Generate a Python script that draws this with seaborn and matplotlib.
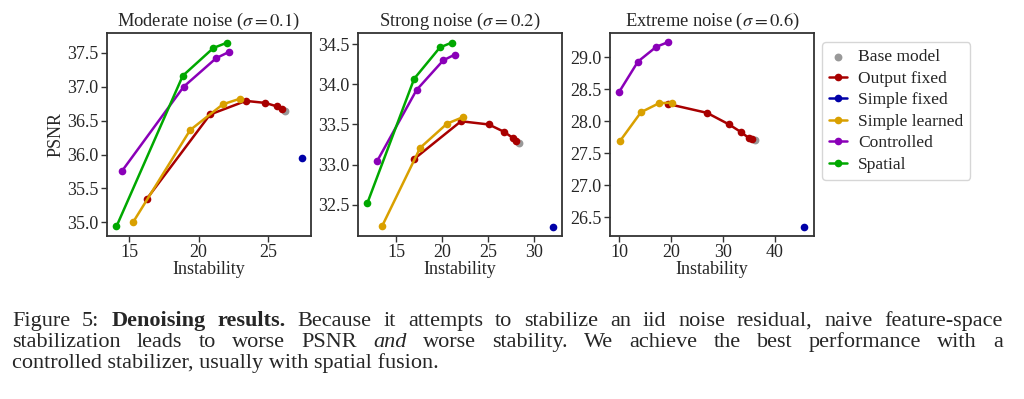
import matplotlib
matplotlib.use("Agg")
import matplotlib.pyplot as plt
from matplotlib.ticker import MultipleLocator, FormatStrFormatter
import seaborn as sns

# ---------------------------------------------------------------------------
# Data (one list per noise level)
# ---------------------------------------------------------------------------
panel_titles = [r"Moderate noise ($\sigma = 0.1$)",
                r"Strong noise ($\sigma = 0.2$)",
                r"Extreme noise ($\sigma = 0.6$)"]

base_x = [26.25, 28.43, 36.14]
base_y = [36.64, 33.27, 27.70]

simple_fixed_x = [27.43, 32.08, 45.71]
simple_fixed_y = [35.95, 32.22, 26.35]

output_fixed_x = [[16.28, 20.83, 23.41, 24.81, 25.63, 25.99],
                  [16.97, 22.08, 25.11, 26.75, 27.77, 28.10],
                  [19.38, 26.96, 31.19, 33.51, 34.98, 35.56]]
output_fixed_y = [[35.35, 36.59, 36.79, 36.76, 36.71, 36.67],
                  [33.07, 33.54, 33.50, 33.41, 33.33, 33.30],
                  [28.27, 28.13, 27.95, 27.83, 27.74, 27.72]]

simple_learned_x = [[15.27, 19.39, 21.75, 22.95],
                    [13.50, 17.63, 20.55, 22.26],
                    [10.19, 14.24, 17.71, 20.28]]
simple_learned_y = [[35.00, 36.36, 36.74, 36.82],
                    [32.24, 33.21, 33.51, 33.59],
                    [27.69, 28.14, 28.28, 28.29]]

controlled_x = [[14.49, 18.93, 21.27, 22.18],
                [12.96, 17.23, 20.15, 21.39],
                [10.06, 13.66, 17.19, 19.38]]
controlled_y = [[35.76, 37.00, 37.42, 37.51],
                [33.05, 33.93, 34.30, 34.37],
                [28.46, 28.93, 29.16, 29.23]]

spatial_x = [[14.08, 18.86, 21.07, 22.08],
             [11.86, 16.97, 19.78, 21.06],
             []]
spatial_y = [[34.94, 37.16, 37.57, 37.65],
             [32.52, 34.07, 34.46, 34.52],
             []]

# ---------------------------------------------------------------------------
# Style
# ---------------------------------------------------------------------------
sns.set_theme(style="ticks")
plt.rcParams["font.family"] = ["Liberation Serif", "DejaVu Serif"]
plt.rcParams["mathtext.fontset"] = "stix"
plt.rcParams["axes.edgecolor"] = "#333333"
plt.rcParams["axes.linewidth"] = 1.3

C_BASE = "#999999"
C_OUT = "#a80000"
C_SFIX = "#0000a8"
C_SLEARN = "#d9a000"
C_CTRL = "#8a00b8"
C_SPAT = "#00a800"

FS = 13
LW = 1.8
MS = 5.5

xlims = [(13.4, 28.1), (10.84, 33.1), (8.27, 47.57)]
ylims = [(34.80, 37.79), (32.11, 34.64), (26.21, 29.375)]
xsteps = [5, 5, 10]
ax_lefts = [107, 358, 610]

fig = plt.figure(figsize=(10.24, 3.99), dpi=100)
W, H = 1024.0, 399.0

axes = []
for i in range(3):
    ax = fig.add_axes([ax_lefts[i] / W, (H - 236) / H, 204 / W, 203 / H])
    axes.append(ax)

    sns.scatterplot(x=[base_x[i]], y=[base_y[i]], color=C_BASE, s=32,
                    linewidth=0, ax=ax, label="Base model", legend=False, zorder=2)

    series = [
        (output_fixed_x[i], output_fixed_y[i], C_OUT, "Output fixed"),
        ([simple_fixed_x[i]], [simple_fixed_y[i]], C_SFIX, "Simple fixed"),
        (simple_learned_x[i], simple_learned_y[i], C_SLEARN, "Simple learned"),
        (controlled_x[i], controlled_y[i], C_CTRL, "Controlled"),
        (spatial_x[i], spatial_y[i], C_SPAT, "Spatial"),
    ]
    for xs, ys, col, lab in series:
        if len(xs) == 0:
            continue
        sns.lineplot(x=xs, y=ys, color=col, marker="o", markersize=MS,
                     markeredgecolor=col, markeredgewidth=0, linewidth=LW,
                     sort=False, estimator=None, ax=ax, label=lab,
                     legend=False, zorder=3)

    ax.set_xlim(*xlims[i])
    ax.set_ylim(*ylims[i])
    ax.xaxis.set_major_locator(MultipleLocator(xsteps[i]))
    ax.yaxis.set_major_locator(MultipleLocator(0.5))
    ax.yaxis.set_major_formatter(FormatStrFormatter("%.1f"))
    ax.tick_params(labelsize=FS, length=4, width=1.0, color="#333333", pad=2)
    ax.set_title(panel_titles[i], fontsize=13.3, pad=5)
    ax.set_xlabel("Instability", fontsize=FS, labelpad=0)
    ax.set_ylabel("")
    for sp in ax.spines.values():
        sp.set_visible(True)

axes[0].set_ylabel("PSNR", fontsize=FS, labelpad=2)

handles, labels = axes[0].get_legend_handles_labels()
fig.legend(handles, labels, loc="upper left",
           bbox_to_anchor=(822 / W, 1 - 42 / H), fontsize=12.6,
           frameon=True, handlelength=1.05, handletextpad=0.6,
           borderpad=0.4, labelspacing=0.3, borderaxespad=0)

# ---------------------------------------------------------------------------
# Caption (justified like the paper)
# ---------------------------------------------------------------------------
CAP_FS = 16
cap_left, cap_right = 12, 1003
caption_lines = [
    [("Figure", "normal", "normal"), ("5:", "normal", "normal"),
     ("Denoising", "bold", "normal"), ("results.", "bold", "normal")]
    + [(w, "normal", "normal") for w in
       "Because it attempts to stabilize an iid noise residual, naive feature-space".split()],
    [(w, "normal", "normal") for w in "stabilization leads to worse PSNR".split()]
    + [("and", "normal", "italic")]
    + [(w, "normal", "normal") for w in
       "worse stability.  We achieve the best performance with a".split()],
]
last_line = "controlled stabilizer, usually with spatial fusion."
baselines = [326, 347, 368]

renderer = fig.canvas.get_renderer()
for words, yb in zip(caption_lines, baselines):
    texts = [fig.text(0, 1 - yb / H, w, fontsize=CAP_FS, fontweight=wt,
                      fontstyle=st, va="baseline", ha="left")
             for w, wt, st in words]
    widths = [t.get_window_extent(renderer).width for t in texts]
    gap = (cap_right - cap_left - sum(widths)) / (len(texts) - 1)
    x = cap_left
    for t, w in zip(texts, widths):
        t.set_x(x / W)
        x += w + gap

fig.text(cap_left / W, 1 - baselines[2] / H, last_line, fontsize=CAP_FS,
         va="baseline", ha="left")

fig.savefig("out.png", dpi=100)
